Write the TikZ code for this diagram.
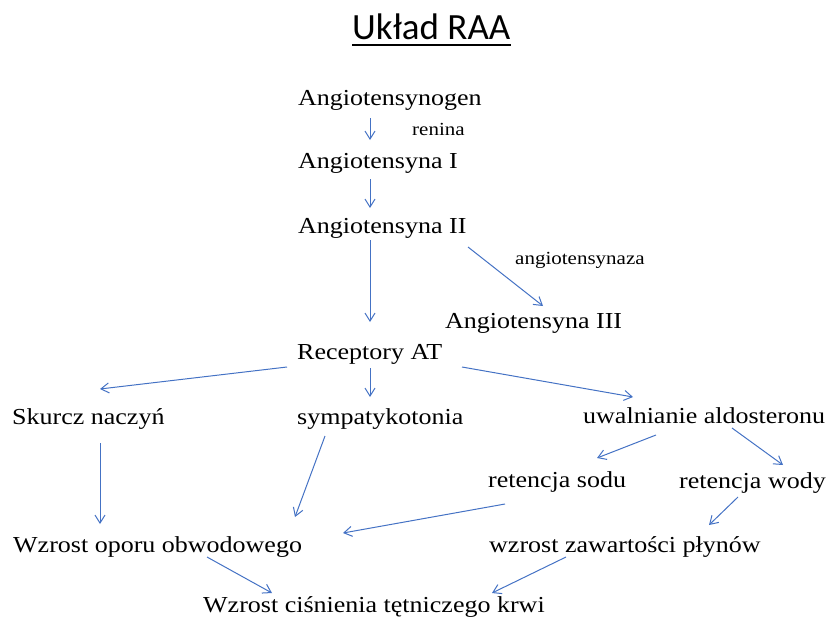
\documentclass[tikz,border=0pt]{standalone}
\usepackage{fontspec}
\usepackage{graphicx}
\setmainfont{Liberation Serif}
\newfontfamily\titlefont{Carlito}
\usetikzlibrary{arrows.meta}
\definecolor{arrblue}{HTML}{4472C4}
\newcommand{\vsq}[1]{\scalebox{1}[0.88]{#1}}
\begin{document}
\begin{tikzpicture}[x=1pt,y=-1pt,
  lbl/.style={anchor=base west, inner sep=0pt, font=\fontsize{26}{26}\selectfont},
  small/.style={anchor=base west, inner sep=0pt, font=\fontsize{21}{21}\selectfont},
  ttl/.style={anchor=base west, inner sep=0pt, font=\titlefont\fontsize{37}{37}\selectfont},
  arr/.style={draw=arrblue, line width=1pt, -{Straight Barb[length=8pt,width=10pt]}}]
\useasboundingbox (0,0) rectangle (829,619);
\node[ttl] (T) at (352,39) {Układ RAA};
\draw[line width=2.6pt] ([shift={(0,6)}]T.base west) -- ([shift={(0,6)}]T.base east);
\node[lbl] (n1) at (298,105) {\vsq{Angiotensynogen}};
\node[small] (ren) at (412,135) {\vsq{renina}};
\node[lbl] (n2) at (298,168) {\vsq{Angiotensyna I}};
\node[lbl] (n3) at (298,233) {\vsq{Angiotensyna II}};
\node[small] (az) at (515,264) {\vsq{angiotensynaza}};
\node[lbl] (n4) at (445,328) {\vsq{Angiotensyna III}};
\node[lbl] (n5) at (297,359) {\vsq{Receptory AT}};
\node[lbl] (n6) at (12,424) {\vsq{Skurcz naczyń}};
\node[lbl] (n7) at (297,424) {\vsq{sympatykotonia}};
\node[lbl] (n8) at (583,423) {\vsq{uwalnianie aldosteronu}};
\node[lbl] (n9) at (488,487) {\vsq{retencja sodu}};
\node[lbl] (n10) at (679,488) {\vsq{retencja wody}};
\node[lbl] (n11) at (13,552) {\vsq{Wzrost oporu obwodowego}};
\node[lbl] (n12) at (489,552) {\vsq{wzrost zawartości płynów}};
\node[lbl] (n13) at (203,612) {\vsq{Wzrost ciśnienia tętniczego krwi}};
\draw[arr] ([shift={(72,13)}]n1.base west) -- ([shift={(72,-28)}]n2.base west);
\draw[arr] ([shift={(72,11)}]n2.base west) -- ([shift={(72,-25)}]n3.base west);
\draw[arr] ([shift={(72,7)}]n3.base west) -- ([shift={(73,-37)}]n5.base west);
\draw[arr] ([shift={(170,14)}]n3.base west) -- ([shift={(98,-22)}]n4.base west);
\draw[arr] ([shift={(-10,8)}]n5.base west) -- ([shift={(88,-35)}]n6.base west);
\draw[arr] ([shift={(73,9)}]n5.base west) -- ([shift={(73,-27)}]n7.base west);
\draw[arr] ([shift={(165,8)}]n5.base west) -- ([shift={(50,-26)}]n8.base west);
\draw[arr] ([shift={(88,19)}]n6.base west) -- ([shift={(87,-28)}]n11.base west);
\draw[arr] ([shift={(28,12)}]n7.base west) -- ([shift={(282,-35)}]n11.base west);
\draw[arr] ([shift={(73,12)}]n8.base west) -- ([shift={(109,-29)}]n9.base west);
\draw[arr] ([shift={(149,5)}]n8.base west) -- ([shift={(104,-23)}]n10.base west);
\draw[arr] ([shift={(17,17)}]n9.base west) -- ([shift={(330,-19)}]n11.base west);
\draw[arr] ([shift={(59,9)}]n10.base west) -- ([shift={(220,-27)}]n12.base west);
\draw[arr] ([shift={(194,5)}]n11.base west) -- ([shift={(69,-19)}]n13.base west);
\draw[arr] ([shift={(77,5)}]n12.base west) -- ([shift={(289,-19)}]n13.base west);
\end{tikzpicture}
\end{document}
